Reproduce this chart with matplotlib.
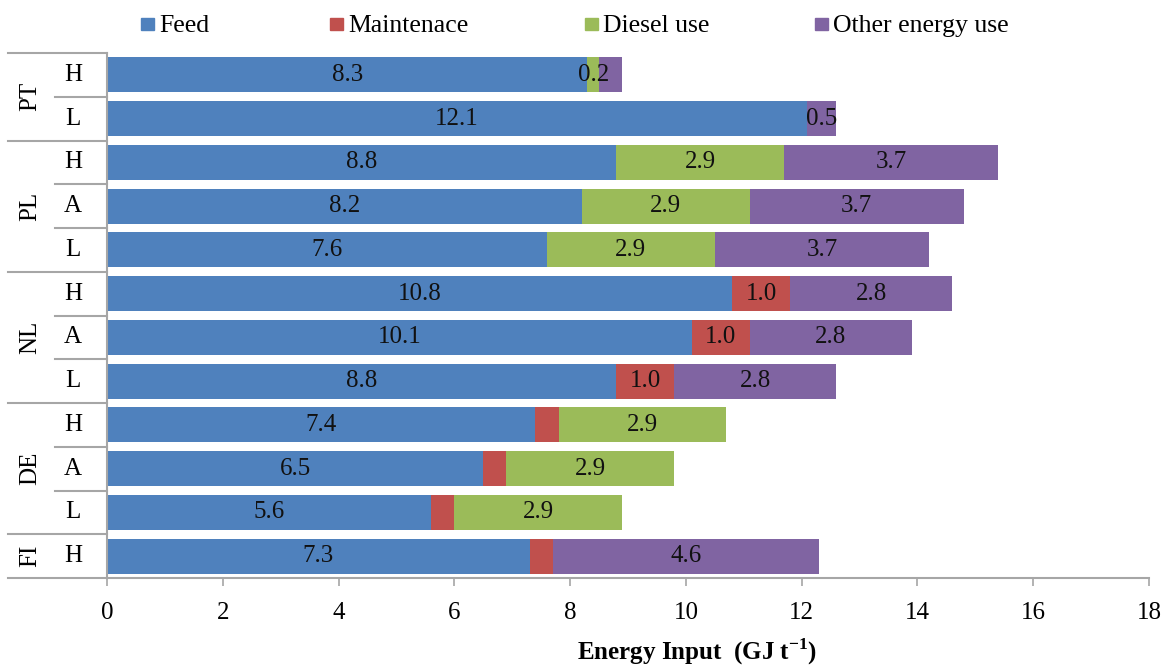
import matplotlib
matplotlib.use("Agg")
import matplotlib.pyplot as plt
import matplotlib.transforms as mtransforms
from matplotlib.patches import Rectangle

plt.rcParams['font.family'] = ['Liberation Serif', 'DejaVu Serif']
plt.rcParams['mathtext.fontset'] = 'custom'
plt.rcParams['mathtext.rm'] = 'Liberation Serif'
plt.rcParams['mathtext.bf'] = 'Liberation Serif:bold'

# Rows from top to bottom: country group and intensity level
groups = ['PT', 'PT', 'PL', 'PL', 'PL', 'NL', 'NL', 'NL', 'DE', 'DE', 'DE', 'FI']
levels = ['H', 'L', 'H', 'A', 'L', 'H', 'A', 'L', 'H', 'A', 'L', 'H']

series_names = ['Feed', 'Maintenace', 'Diesel use', 'Other energy use']
feed = [8.3, 12.1, 8.8, 8.2, 7.6, 10.8, 10.1, 8.8, 7.4, 6.5, 5.6, 7.3]
maintenance = [0, 0, 0, 0, 0, 1.0, 1.0, 1.0, 0.4, 0.4, 0.4, 0.4]
diesel = [0.2, 0, 2.9, 2.9, 2.9, 0, 0, 0, 2.9, 2.9, 2.9, 0]
other = [0.4, 0.5, 3.7, 3.7, 3.7, 2.8, 2.8, 2.8, 0, 0, 0, 4.6]

x_ticks = [0, 2, 4, 6, 8, 10, 12, 14, 16, 18]

colors = ['#4F81BD', '#C0504D', '#9BBB59', '#8064A2']
# segments drawn without a value label (too narrow)
unlabeled = {(3, 0), (1, 8), (1, 9), (1, 10), (1, 11)}

W, H = 1164, 670
fig = plt.figure(figsize=(W / 100, H / 100), dpi=100)
ax = fig.add_axes([107 / W, 1 - 578 / H, (1149 - 107) / W, (578 - 53) / H])

n = len(levels)
ypos = list(range(n))
left = [0.0] * n
for s, vals in enumerate([feed, maintenance, diesel, other]):
    ax.barh(ypos, vals, left=left, height=0.8, color=colors[s],
            edgecolor='none', zorder=2)
    for i, v in enumerate(vals):
        if v > 0 and (s, i) not in unlabeled:
            ax.text(left[i] + v / 2, i, f'{v:.1f}', ha='center', va='center',
                    fontsize=18, color='#111111', zorder=3)
    left = [a + b for a, b in zip(left, vals)]

ax.set_xlim(0, 18)
ax.set_ylim(n - 0.5, -0.5)
ax.set_xticks(x_ticks)
ax.set_xticklabels([str(t) for t in x_ticks], fontsize=18)
ax.set_yticks([])
ax.tick_params(axis='x', direction='out', length=6, width=1.2,
               color='#A6A6A6', pad=11)
for side in ['top', 'right']:
    ax.spines[side].set_visible(False)
for side in ['left', 'bottom']:
    ax.spines[side].set_color('#A6A6A6')
    ax.spines[side].set_linewidth(1.5)

# Two-level category axis on the left
trans = mtransforms.blended_transform_factory(ax.transAxes, ax.transData)
x_outer = (8 - 107) / (1149 - 107)
x_inner = (55 - 107) / (1149 - 107)
line_kw = dict(color='#A6A6A6', lw=1.5, transform=trans, clip_on=False)

bounds = [-0.5] + [i + 0.5 for i in range(n)]
for b in bounds:
    above = int(b - 0.5) if b > -0.5 else None
    below = int(b + 0.5) if b + 0.5 < n else None
    if above is None or below is None or groups[above] != groups[below]:
        ax.plot([x_outer, 0], [b, b], **line_kw)
    else:
        ax.plot([x_inner, 0], [b, b], **line_kw)

x_level = (73 - 107) / (1149 - 107)
x_group = (30 - 107) / (1149 - 107)
for i, lv in enumerate(levels):
    ax.text(x_level, i, lv, transform=trans, ha='center', va='center',
            fontsize=18)
seen = []
for g in groups:
    if g not in seen:
        seen.append(g)
for g in seen:
    idx = [i for i, gg in enumerate(groups) if gg == g]
    mid = (idx[0] + idx[-1]) / 2
    ax.text(x_group, mid, g, transform=trans, ha='center', va='center',
            rotation=90, fontsize=18)

# Axis title
fig.text(697 / W, 1 - 652 / H, r'Energy Input  (GJ t$^{\mathbf{-1}}$)',
         ha='center', va='center', fontsize=18, fontweight='bold')

# Legend row across the top
sq_x = [141, 330, 585, 815]
txt_x = [159, 348, 603, 833]
for name, c, sx, tx in zip(series_names, colors, sq_x, txt_x):
    fig.patches.append(Rectangle((sx / W, 1 - 30 / H), 13 / W, 12 / H,
                                 transform=fig.transFigure, color=c))
    fig.text(tx / W, 1 - 32 / H, name, ha='left', va='baseline', fontsize=18.5)

fig.savefig('out.png', dpi=100)
